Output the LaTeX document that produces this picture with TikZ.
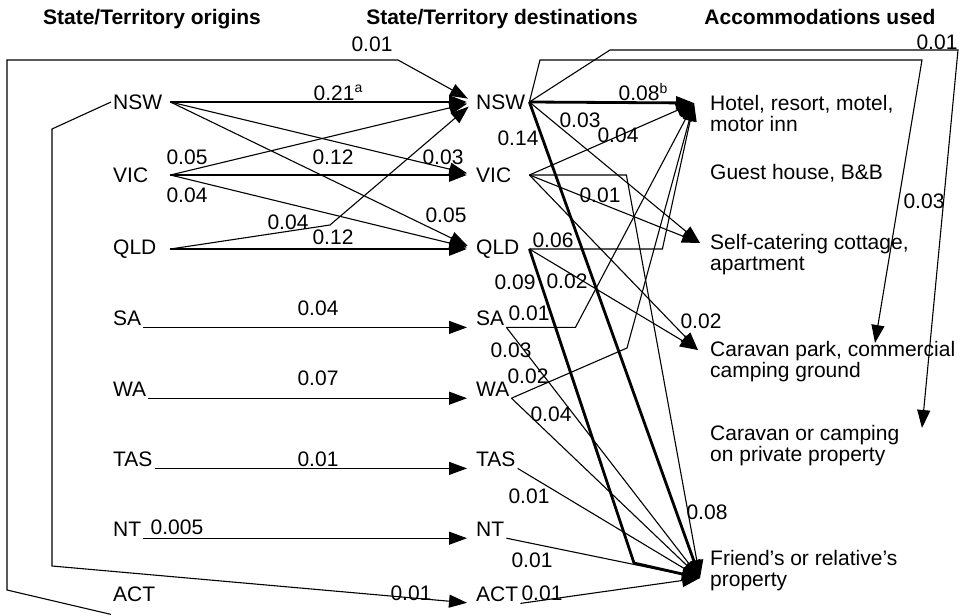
\documentclass[tikz,border=0pt]{standalone}
\usepackage{fontspec}
\setmainfont{Liberation Sans}
\usetikzlibrary{arrows.meta}
\newcommand\diagfont{\fontsize{21}{21}\selectfont}
\newcommand\upidx[1]{\raisebox{7.5pt}{\fontsize{14}{14}\selectfont #1}}
\tikzset{
  src/.style={anchor=west,inner sep=2pt,text width=55pt,align=left},
  srclow/.style={anchor=base west,inner sep=2pt},
  dst/.style={anchor=west,inner sep=2pt,text width=51pt,align=left},
  dstlow/.style={anchor=base west,inner sep=2pt},
  accom/.style={anchor=north west,inner sep=0pt,align=left},
  heading/.style={anchor=base,font=\diagfont\bfseries},
  val/.style={inner sep=0pt},
  flow/.style={-{Triangle[length=18pt,width=13pt]},line width=1.1pt},
  bigflow/.style={flow,line width=2.8pt},
  todest/.style={shorten >=7pt}
}

\begin{document}
\begin{tikzpicture}[x=1pt,y=-1pt,font=\diagfont]
\useasboundingbox (0,0) rectangle (962,616);
\node[heading] (hOrig) at (152,24) {State/Territory origins};
\node[heading] (hDest) at (502,24) {State/Territory destinations};
\node[heading] (hAcc) at (820,24) {Accommodations used};

\node[src] (oNSW) at (111,102) {NSW};
\node[src] (oVIC) at (111,175) {VIC};
\node[src] (oQLD) at (111,249) {QLD};
\node[srclow] (oSA) at (111,325) {SA};
\node[srclow] (oWA) at (111,396) {WA};
\node[srclow] (oTAS) at (111,466) {TAS};
\node[srclow] (oNT) at (111,536) {NT};
\node[srclow] (oACT) at (111,601) {ACT};

\node[dst] (dNSW) at (474,102) {NSW};
\node[dst] (dVIC) at (474,175) {VIC};
\node[dst] (dQLD) at (474,249) {QLD};
\node[dstlow] (dSA) at (474,325) {SA};
\node[dstlow] (dWA) at (474,396) {WA};
\node[dstlow] (dTAS) at (474,466) {TAS};
\node[dstlow] (dNT) at (474,536) {NT};
\node[dstlow] (dACT) at (474,601) {ACT};

\node[accom] (aHotel) at (710,95) {Hotel, resort, motel,\\motor inn};
\node[accom] (aGuest) at (710,164) {Guest house, B\&B};
\node[accom] (aSelf) at (710,234) {Self-catering cottage,\\apartment};
\node[accom] (aCaravan) at (710,341) {Caravan park, commercial\\camping ground};
\node[accom] (aPrivate) at (710,425) {Caravan or camping\\on private property};
\node[accom] (aFriend) at (710,550) {Friend’s or relative’s\\property};

\coordinate (inHotel) at ([shift={(-16pt,-8pt)}]aHotel.north west);
\coordinate (inSelf) at ([shift={(-10pt,-9pt)}]aSelf.north west);
\coordinate (inCaravan) at ([shift={(-12pt,-9pt)}]aCaravan.north west);
\coordinate (inCaravanTop) at ([shift={(165pt,-2pt)}]aCaravan.north west);
\coordinate (inPrivate) at ([shift={(212pt,-3pt)}]aPrivate.north west);
\coordinate (inFriend) at ([shift={(-10pt,-28pt)}]aFriend.north west);

% origins to destinations
\draw[bigflow,todest] (oNSW.east) -- (dNSW.west);
\draw[flow,todest] (oNSW.east) -- (dVIC.west);
\draw[flow,todest] (oNSW.east) -- (dQLD.west);
\draw[flow,todest] (oVIC.east) -- (dNSW.west);
\draw[bigflow,todest] (oVIC.east) -- (dVIC.west);
\draw[flow,todest] (oVIC.east) -- (dQLD.west);
\draw[flow,todest] (oQLD.east) -- (330,225) -- (dNSW.west);
\draw[bigflow,todest] (oQLD.east) -- (dQLD.west);
\draw[flow,todest] (oSA.south east) -- (dSA.south west);
\draw[flow,todest] (oWA.south east) -- (dWA.south west);
\draw[flow,todest] (oTAS.south east) -- (dTAS.south west);
\draw[flow,todest] (oNT.south east) -- (dNT.south west);
\draw[flow,todest] ([yshift=-11pt]oACT.south west) -- (7,590) -- (7,60) -- (398,60) -- (dNSW.west);
\draw[flow,todest] (oNSW.west) -- (52,129) -- (52,566) -- (dACT.south west);

\node[val] (vNN) at (338,93) {0.21\upidx{a}};
\node[val] (vNV) at (443,157) {0.03};
\node[val] (vNQ) at (446,215) {0.05};
\node[val] (vVN) at (187,157) {0.05};
\node[val] (vVV) at (333,157) {0.12};
\node[val] (vVQ) at (187,195) {0.04};
\node[val] (vQN) at (288,222) {0.04};
\node[val] (vQQ) at (333,237) {0.12};
\node[val] (vSS) at (318,308) {0.04};
\node[val] (vWW) at (318,378) {0.07};
\node[val] (vTT) at (318,459) {0.01};
\node[val] (vNTNT) at (177,527) {0.005};
\node[val] (vAN) at (372,44) {0.01};
\node[val] (vNA) at (411,593) {0.01};

% destinations to accommodations
\draw[bigflow] (dNSW.east) -- (inHotel);
\draw[bigflow] (dNSW.east) -- (inFriend);
\draw[flow] (dNSW.east) -- (inSelf);
\draw[flow] (dNSW.east) -- (610,50) -- (958,50) -- (inPrivate);
\draw[flow] (dNSW.east) -- (540,60) -- (922,60) -- (inCaravanTop);
\draw[flow] (dVIC.east) -- (inHotel);
\draw[flow] (dVIC.east) -- (inSelf);
\draw[flow] (dVIC.east) -- (inCaravan);
\draw[flow] (dVIC.east) -- ++(97,0) -- (inFriend);
\draw[flow] (dQLD.east) -- ++(133,0) -- (inHotel);
\draw[flow] (dQLD.east) -- (inCaravan);
\draw[bigflow] (dQLD.east) -- (634,563) -- (inFriend);
\draw[flow] (dSA.south east) -- ++(69,0) -- (inHotel);
\draw[flow] (dSA.south east) -- (inFriend);
\draw[flow] (dWA.south east) -- (627,348) -- (inHotel);
\draw[flow] (dWA.south east) -- (inFriend);
\draw[flow] (dTAS.south east) -- (inFriend);
\draw[flow] (dNT.south east) -- (inFriend);
\draw[flow] (dACT.south east) -- (inFriend);

\node[val] (vNH) at (643,92) {0.08\upidx{b}};
\node[val] (vNF) at (518,138) {0.14};
\node[val] (vNS) at (580,120) {0.03};
\node[val] (vNP) at (937,42) {0.01};
\node[val] (vNC) at (924,201) {0.03};
\node[val] (vVH) at (618,135) {0.04};
\node[val] (vVS) at (600,195) {0.01};
\node[val] (vVC) at (701,321) {0.02};
\node[val] (vVF) at (707,512) {0.08};
\node[val] (vQH) at (553,240) {0.06};
\node[val] (vQC) at (567,281) {0.02};
\node[val] (vQF) at (515,282) {0.09};
\node[val] (vSH) at (529,313) {0.01};
\node[val] (vSF) at (511,350) {0.03};
\node[val] (vWH) at (528,376) {0.02};
\node[val] (vWF) at (551,414) {0.04};
\node[val] (vTF) at (529,496) {0.01};
\node[val] (vNTF) at (532,560) {0.01};
\node[val] (vAF) at (542,593) {0.01};
\end{tikzpicture}
\end{document}
